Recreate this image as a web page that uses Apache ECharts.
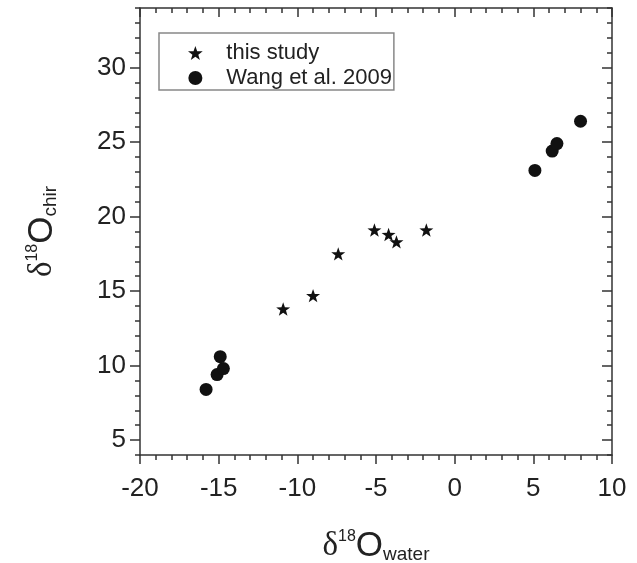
<!DOCTYPE html>
<html>
<head>
<meta charset="utf-8">
<script src="https://cdn.jsdelivr.net/npm/echarts@6/dist/echarts.min.js"></script>
<style>
  html, body { margin: 0; padding: 0; background: #fff; }
  #chart { width: 637px; height: 563px; }
</style>
</head>
<body>
<div id="chart"></div>
<script>
// this study (stars)
const studyX = [-10.9, -9.0, -7.4, -5.1, -4.2, -3.7, -1.8];
const studyY = [13.8, 14.7, 17.5, 19.1, 18.8, 18.3, 19.1];
// Wang et al. 2009 (circles)
const wangX = [-15.8, -15.1, -14.7, -14.9, 5.1, 6.2, 6.5, 8.0];
const wangY = [8.4, 9.4, 9.8, 10.6, 23.1, 24.4, 24.9, 26.4];
// major tick labels on the y axis
const yMajor = [5, 10, 15, 20, 25, 30];
const seriesNames = ['this study', 'Wang et al. 2009'];

const FONT = '"Liberation Sans", Arial, sans-serif';
const AX = '#333';
const STAR = 'path://M50 0 L61.76 33.82 L97.55 34.55 L69.02 56.18 L79.39 90.45 L50 70 L20.61 90.45 L30.98 56.18 L2.45 34.55 L38.24 33.82 Z';

const nameRich = {
    d: { fontSize: 33, fontFamily: '"Liberation Serif", serif', color: '#222' },
    s: { fontSize: 16, fontFamily: FONT, color: '#222', verticalAlign: 'top' },
    o: { fontSize: 35, fontFamily: FONT, color: '#222' },
    b: { fontSize: 19, fontFamily: FONT, color: '#222', verticalAlign: 'bottom' }
};

const lineStyle = { color: AX, width: 1.5 };

const chart = echarts.init(document.getElementById('chart'));

const option = {
    backgroundColor: '#fff',
    animation: false,
    grid: { left: 140, right: 25, top: 8, bottom: 108, outerBoundsMode: 'none' },
    legend: {
        orient: 'vertical',
        left: 159,
        top: 33,
        padding: [9, 2, 1, 29],
        itemWidth: 52,
        itemHeight: 14,
        itemGap: 3,
        borderColor: '#888',
        borderWidth: 1.5,
        textStyle: { fontSize: 22, fontFamily: FONT, color: '#222', lineHeight: 20 },
        data: seriesNames
    },
    xAxis: [{
        type: 'value', position: 'bottom',
        min: -20, max: 10, interval: 5,
        axisLine: { show: true, onZero: false, lineStyle },
        axisTick: { show: true, length: 9, lineStyle },
        minorTick: { show: true, splitNumber: 5, length: 5, lineStyle },
        axisLabel: { fontSize: 26, margin: 21, color: '#222', fontFamily: FONT },
        splitLine: { show: false },
        name: '{d|δ}{s|18}{o|O}{b|water}',
        nameLocation: 'middle',
        nameGap: 74,
        nameTextStyle: { rich: nameRich }
    }, {
        type: 'value', position: 'top',
        min: -20, max: 10, interval: 5,
        axisLine: { show: true, onZero: false, lineStyle },
        axisTick: { show: true, inside: true, length: 9, lineStyle },
        minorTick: { show: true, splitNumber: 5, length: 5, lineStyle },
        axisLabel: { show: false },
        splitLine: { show: false }
    }],
    yAxis: [{
        type: 'value', position: 'left',
        min: 4, max: 34, interval: 1,
        axisLine: { show: true, onZero: false, lineStyle },
        axisTick: { show: true, length: 5, lineStyle },
        axisLabel: {
            fontSize: 26, margin: 14, color: '#222', fontFamily: FONT,
            formatter: v => (v % 5 === 0 ? String(v) : '')
        },
        splitLine: { show: false },
        name: '{d|δ}{s|18}{o|O}{b|chir}',
        nameLocation: 'middle',
        nameRotate: 90,
        nameGap: 80,
        nameTextStyle: { rich: nameRich }
    }, {
        type: 'value', position: 'left',
        min: 4, max: 34,
        axisLine: { show: false, onZero: false },
        axisTick: { show: true, length: 10, lineStyle, customValues: yMajor },
        axisLabel: { show: false },
        splitLine: { show: false }
    }, {
        type: 'value', position: 'right',
        min: 4, max: 34, interval: 1,
        axisLine: { show: true, onZero: false, lineStyle },
        axisTick: { show: true, inside: true, length: 5, lineStyle },
        axisLabel: { show: false },
        splitLine: { show: false }
    }, {
        type: 'value', position: 'right',
        min: 4, max: 34,
        axisLine: { show: false, onZero: false },
        axisTick: { show: true, inside: true, length: 10, lineStyle, customValues: yMajor },
        axisLabel: { show: false },
        splitLine: { show: false }
    }],
    series: [{
        name: seriesNames[0],
        type: 'scatter',
        symbol: STAR,
        symbolKeepAspect: true,
        symbolSize: 14,
        itemStyle: { color: '#111', opacity: 1 },
        data: studyX.map((x, i) => [x, studyY[i]])
    }, {
        name: seriesNames[1],
        type: 'scatter',
        symbol: 'circle',
        symbolSize: 13,
        itemStyle: { color: '#111', opacity: 1 },
        data: wangX.map((x, i) => [x, wangY[i]])
    }]
};

chart.setOption(option);
window.addEventListener('resize', () => chart.resize());
</script>
</body>
</html>
